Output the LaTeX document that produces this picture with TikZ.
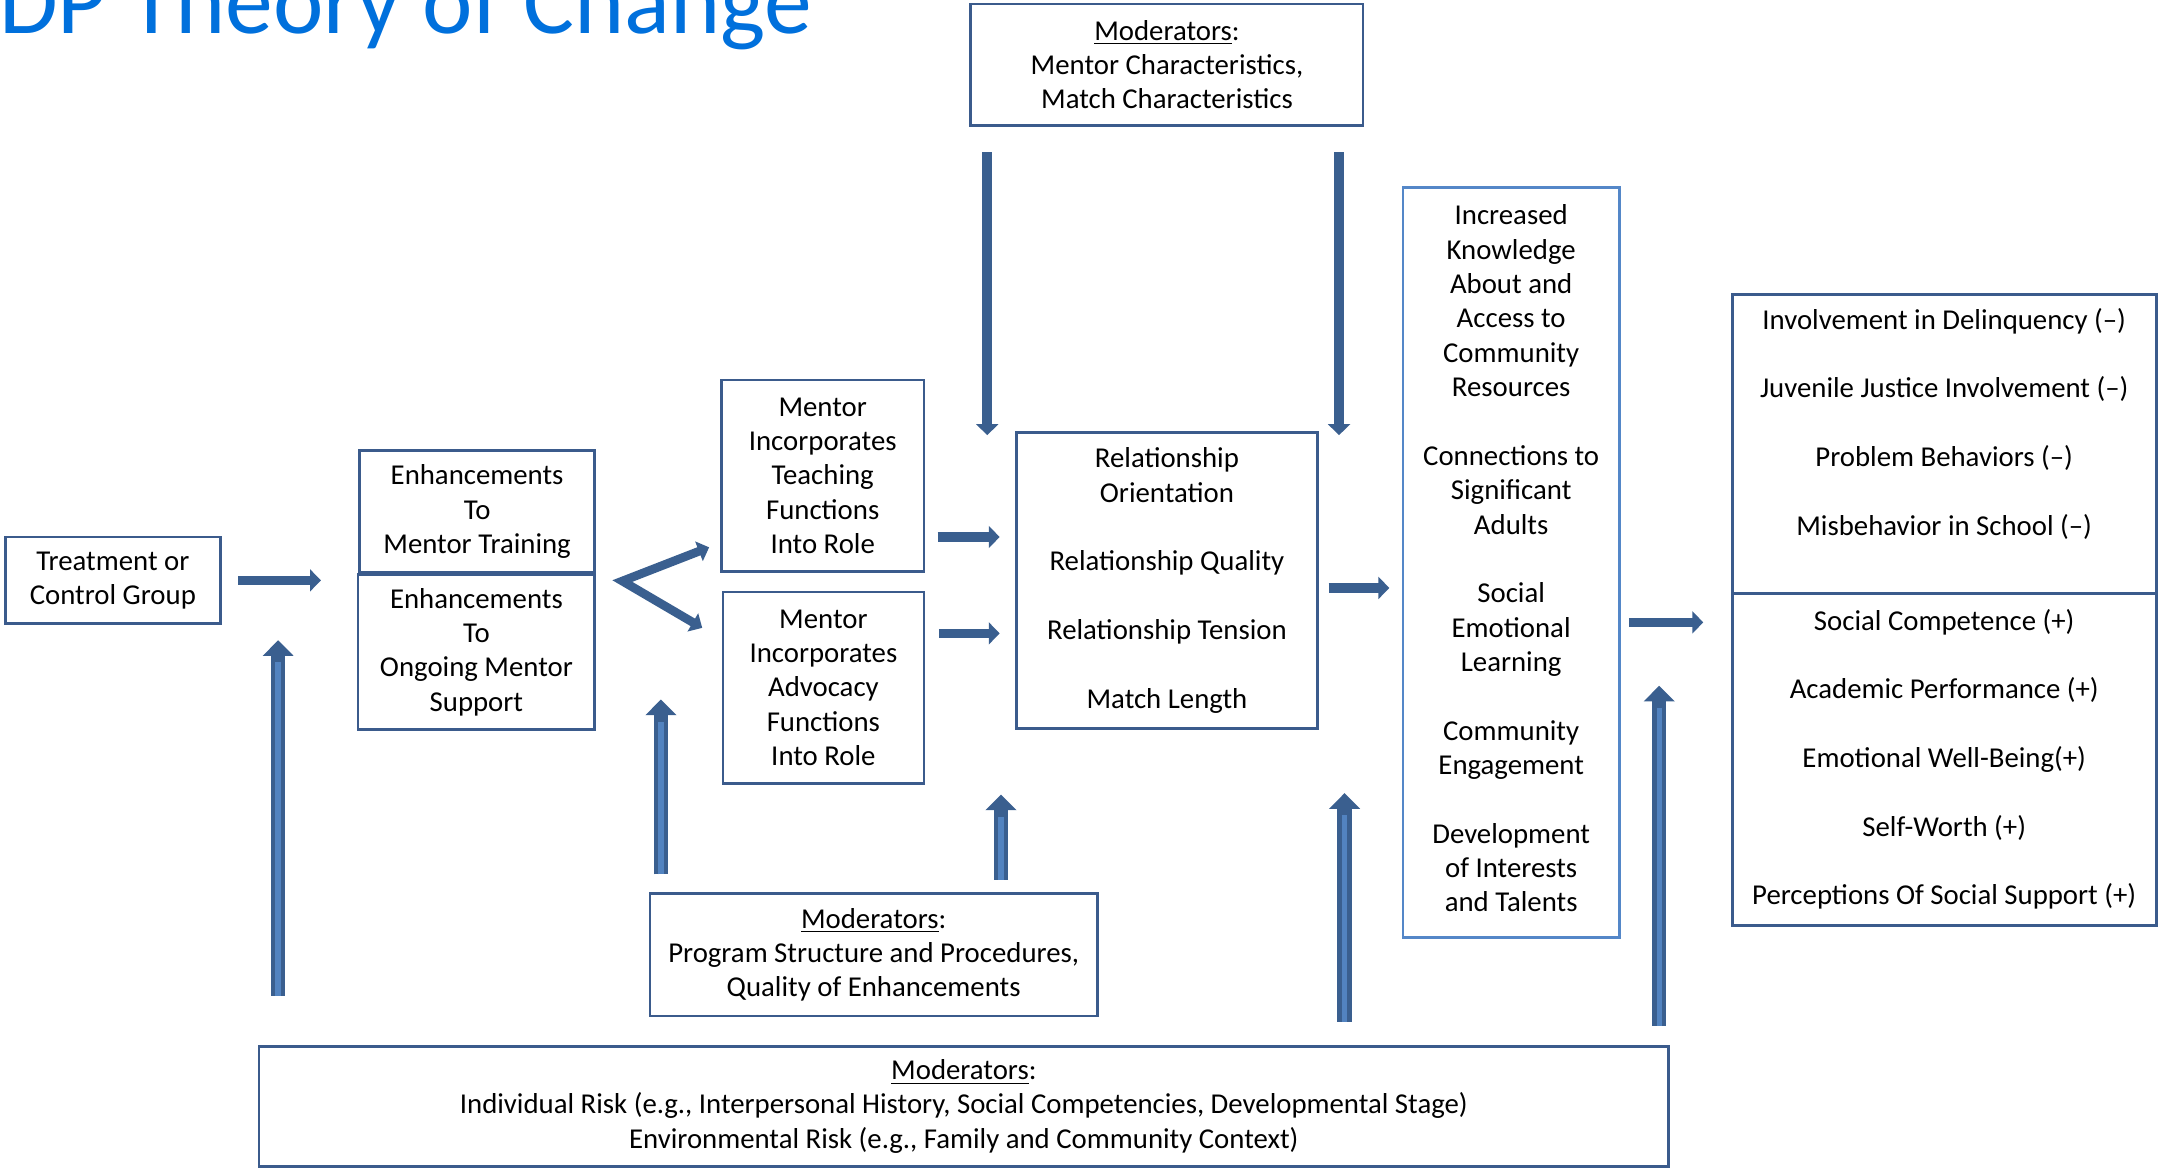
\documentclass[tikz,border=0pt]{standalone}
\usepackage{fontspec}
\setmainfont{Carlito}
\usetikzlibrary{arrows.meta}
\definecolor{boxblue}{RGB}{59,91,140}
\definecolor{gainblue}{RGB}{84,135,200}
\definecolor{arrowblue}{RGB}{58,95,143}
\definecolor{liftblue}{RGB}{82,131,192}
\definecolor{titleblue}{RGB}{0,112,220}

\begin{document}
\begin{tikzpicture}[x=0.02cm,y=-0.02cm]
		\clip (0,0) rectangle (1568,848);
		\useasboundingbox (0,0) rectangle (1568,848);
		\node[anchor=base west,inner sep=0pt,text=titleblue,font=\fontsize{39.5}{47}\selectfont] (0) at (-1,24) {DP Theory of Change};

		\begin{scope}[every node/.style={draw=boxblue,line width=1.1pt,inner sep=0pt,align=center,font=\fontsize{11.9}{14.2}\selectfont}]
			\node[minimum width=5.7cm,minimum height=1.76cm] (1) at (847.5,47) {\underline{Moderators}:\\Mentor Characteristics,\\Match Characteristics};
			\node[minimum width=3.12cm,minimum height=1.26cm] (2) at (82,421.5) {Treatment or\\Control Group};
			\node[minimum width=3.42cm,minimum height=1.78cm] (3) at (346.5,371.5) {Enhancements\\To\\Mentor Training};
			\node[minimum width=3.44cm,minimum height=2.26cm] (4) at (346,473.5) {Enhancements\\To\\Ongoing Mentor\\Support};
			\node[minimum width=2.94cm,minimum height=2.78cm] (5) at (597.5,345.5) {Mentor\\Incorporates\\Teaching\\Functions\\Into Role};
			\node[minimum width=2.92cm,minimum height=2.78cm] (6) at (598,499.5) {Mentor\\Incorporates\\Advocacy\\Functions\\Into Role};
			\node[minimum width=4.38cm,minimum height=4.3cm] (7) at (847.5,421.5) {Relationship\\Orientation\\[14.2pt]Relationship Quality\\[14.2pt]Relationship Tension\\[14.2pt]Match Length};
			\node[draw=gainblue,minimum width=3.14cm,minimum height=10.9cm] (8) at (1097.5,408.5) {Increased\\Knowledge\\About and\\Access to\\Community\\Resources\\[14.2pt]Connections to\\Significant\\Adults\\[14.2pt]Social\\Emotional\\Learning\\[14.2pt]Community\\Engagement\\[14.2pt]Development\\of Interests\\and Talents\\[-10.8pt]};
			\node[minimum width=6.16cm,minimum height=4.34cm] (9) at (1412,322.5) {Involvement in Delinquency (–)\\[14.2pt]Juvenile Justice Involvement (–)\\[14.2pt]Problem Behaviors (–)\\[14.2pt]Misbehavior in School (–)\\\strut};
			\node[minimum width=6.16cm,minimum height=4.82cm] (10) at (1412,551.5) {Social Competence (+)\\[14.2pt]Academic Performance (+)\\[14.2pt]Emotional Well-Being(+)\\[14.2pt]Self-Worth (+)\\[14.2pt]Perceptions Of Social Support (+)};
			\node[minimum width=6.5cm,minimum height=1.78cm] (11) at (634.5,693.5) {\underline{Moderators}:\\Program Structure and Procedures,\\Quality of Enhancements};
			\node[minimum width=20.48cm,minimum height=1.74cm] (12) at (700,803.5) {\underline{Moderators}:\\Individual Risk (e.g., Interpersonal History, Social Competencies, Developmental Stage)\\Environmental Risk (e.g., Family and Community Context)};
		\end{scope}

		% arrow tips
		\coordinate (a) at (202,465);
		\coordinate (b) at (452,422);
		\coordinate (c) at (515,397.5);
		\coordinate (d) at (510,456);
		\coordinate (e) at (480,508);
		\coordinate (f) at (726,390);
		\coordinate (g) at (726,460);
		\coordinate (h) at (727,577);
		\coordinate (i) at (717,316);
		\coordinate (j) at (972.5,316);
		\coordinate (k) at (1009,427);
		\coordinate (l) at (976.5,576);
		\coordinate (m) at (1237,452);
		\coordinate (n) at (1205,498);

		\begin{scope}[every edge/.style={draw=arrowblue,line width=4pt,-{Triangle[length=4.5pt,width=9pt]}},
		              lift/.style={line width=5.9pt,-{Triangle[length=6.5pt,width=12.5pt]},
		                           postaction={draw=liftblue,line width=2.2pt,-,shorten >=0.32cm}},
		              fork/.style={draw=arrowblue,line width=3.6pt,line join=miter,{Triangle[length=4.5pt,width=8.5pt]}-{Triangle[length=4.5pt,width=8.5pt]}}]
			\path (2) edge[shorten <=0.24cm,shorten >=0.52cm] (2 -| 4.west);
			\path (12.north -| a) edge[lift,shorten <=0.72cm] (a);
			\draw[fork] (c) -- (b) -- (d);
			\path (11.north -| e) edge[lift,shorten <=0.26cm] (e);
			\path (f -| 5.east) edge[shorten <=0.18cm] (f);
			\path (g -| 6.east) edge[shorten <=0.2cm] (g);
			\path (11.north -| h) edge[lift,shorten <=0.18cm] (h);
			\path (1.south -| i) edge[shorten <=0.37cm] (i);
			\path (1.south -| j) edge[shorten <=0.37cm] (j);
			\path (k -| 7.east) edge[shorten <=0.14cm] (k);
			\path (12.north -| l) edge[lift,shorten <=0.34cm] (l);
			\path (m -| 8.east) edge[shorten <=0.12cm] (m);
			\path (12.north -| n) edge[lift,shorten <=0.28cm] (n);
		\end{scope}
\end{tikzpicture}
\end{document}
